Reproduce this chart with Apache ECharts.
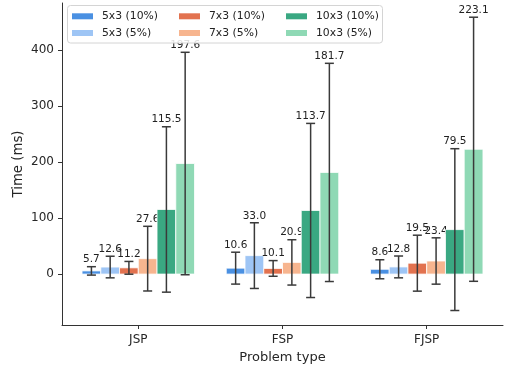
<!DOCTYPE html>
<html>
<head>
<meta charset="utf-8">
<script src="https://cdn.jsdelivr.net/npm/echarts@6/dist/echarts.min.js"></script>
<style>html,body{margin:0;padding:0;background:#fff;}#c{width:505px;height:369px;}</style>
</head>
<body>
<div id="c"></div>
<script>
var categories = ['JSP', 'FSP', 'FJSP'];
var seriesNames = ['5x3 (10%)', '5x3 (5%)', '7x3 (10%)', '7x3 (5%)', '10x3 (10%)', '10x3 (5%)'];
var mean_5x3_10 = [5.7, 10.6, 8.6];
var mean_5x3_5 = [12.6, 33.0, 12.8];
var mean_7x3_10 = [11.2, 10.1, 19.5];
var mean_7x3_5 = [27.6, 20.9, 23.4];
var mean_10x3_10 = [115.5, 113.7, 79.5];
var mean_10x3_5 = [197.6, 181.7, 223.1];
var std_5x3_10 = [7.5, 28.5, 17.0];
var std_5x3_5 = [19.3, 58.7, 19.5];
var std_7x3_10 = [11.4, 14.0, 50.0];
var std_7x3_5 = [57.8, 40.5, 41.4];
var std_10x3_10 = [147.8, 155.6, 144.6];
var std_10x3_5 = [198.8, 195.0, 236.0];
var yTicks = [0, 100, 200, 300, 400];

var means = [mean_5x3_10, mean_5x3_5, mean_7x3_10, mean_7x3_5, mean_10x3_10, mean_10x3_5];
var stds = [std_5x3_10, std_5x3_5, std_7x3_10, std_7x3_5, std_10x3_10, std_10x3_5];
var colors = ['#4a90e2', '#9ec5f5', '#e2724f', '#f7b58f', '#3aa882', '#8fd9b5'];
var BAR_W = 0.13;
var FONT = 'DejaVu Sans';

function makeRender(idx, color) {
  return function (params, api) {
    var x = api.value(0), m = api.value(1), s = api.value(2);
    var xo = x + (idx - 2.5) * BAR_W;
    var c = api.coord([xo, m]);
    var b = api.coord([xo, 0]);
    var w = api.size([BAR_W, 0])[0];
    var top = api.coord([xo, m + s])[1];
    var bot = api.coord([xo, m - s])[1];
    var cap = 4.5;
    var lineStyle = { stroke: '#3a3a3a', lineWidth: 1.5 };
    return {
      type: 'group',
      children: [
        { type: 'rect', shape: { x: c[0] - w / 2, y: Math.min(c[1], b[1]), width: w, height: Math.abs(b[1] - c[1]) },
          style: { fill: color, stroke: 'rgba(255,255,255,0.8)', lineWidth: 1 } },
        { type: 'line', shape: { x1: c[0], y1: top, x2: c[0], y2: bot }, style: lineStyle },
        { type: 'line', shape: { x1: c[0] - cap, y1: top, x2: c[0] + cap, y2: top }, style: lineStyle },
        { type: 'line', shape: { x1: c[0] - cap, y1: bot, x2: c[0] + cap, y2: bot }, style: lineStyle },
        { type: 'text', x: c[0], y: top - 1.5,
          style: { text: m.toFixed(1), fill: '#222', font: '10.5px "DejaVu Sans"', align: 'center', verticalAlign: 'bottom' } }
      ]
    };
  };
}

var series = seriesNames.map(function (name, i) {
  return {
    name: name,
    type: 'custom',
    renderItem: makeRender(i, colors[i]),
    itemStyle: { color: colors[i] },
    encode: { x: 0, y: 1 },
    data: categories.map(function (cat, j) { return [j, means[i][j], stds[i][j]]; }),
    z: 2
  };
});

var legendText = { fontFamily: FONT, fontSize: 10.8, color: '#222', width: 77, lineHeight: 14, padding: [0, 0, 0, 4] };

var option = {
  animation: false,
  backgroundColor: '#fff',
  grid: { left: 62, right: 2, top: 3, bottom: 44, containLabel: false },
  xAxis: {
    type: 'value', min: -0.529, max: 2.529,
    axisLine: { show: true, onZero: false, lineStyle: { color: '#333', width: 1 } },
    axisTick: { show: true, length: 4, lineStyle: { color: '#333' }, customValues: [0, 1, 2] },
    axisLabel: { customValues: [0, 1, 2], formatter: function (v) { return categories[Math.round(v)]; },
      fontFamily: FONT, fontSize: 12, color: '#262626', margin: 9 },
    splitLine: { show: false },
    name: 'Problem type', nameLocation: 'middle', nameGap: 26, nameMoveOverlap: false,
    nameTextStyle: { fontFamily: FONT, fontSize: 13, color: '#262626' }
  },
  yAxis: {
    type: 'value', min: -91, max: 484.5,
    axisLine: { show: true, onZero: false, lineStyle: { color: '#333', width: 1 } },
    axisTick: { show: true, length: 4, lineStyle: { color: '#333' }, customValues: yTicks },
    axisLabel: { customValues: yTicks, fontFamily: FONT, fontSize: 12, color: '#262626', margin: 8 },
    splitLine: { show: false },
    name: 'Time (ms)', nameLocation: 'middle', nameGap: 37, nameMoveOverlap: false,
    nameTextStyle: { fontFamily: FONT, fontSize: 13.3, color: '#262626' }
  },
  graphic: [{
    type: 'rect', z: 3,
    shape: { x: 67.5, y: 5.5, width: 315, height: 37.5, r: 3 },
    style: { fill: 'rgba(255,255,255,0.85)', stroke: '#d4d4d4', lineWidth: 1 }
  }],
  legend: [
    { data: [seriesNames[0], seriesNames[2], seriesNames[4]], left: 72, top: 9.3, padding: 0, itemGap: 0,
      itemWidth: 21, itemHeight: 6, icon: 'rect', textStyle: legendText, selectedMode: false },
    { data: [seriesNames[1], seriesNames[3], seriesNames[5]], left: 72, top: 26, padding: 0, itemGap: 0,
      itemWidth: 21, itemHeight: 6, icon: 'rect', textStyle: legendText, selectedMode: false }
  ],
  series: series
};

var chart = echarts.init(document.getElementById('c'), null, { renderer: 'canvas' });
chart.setOption(option);
</script>
</body>
</html>
